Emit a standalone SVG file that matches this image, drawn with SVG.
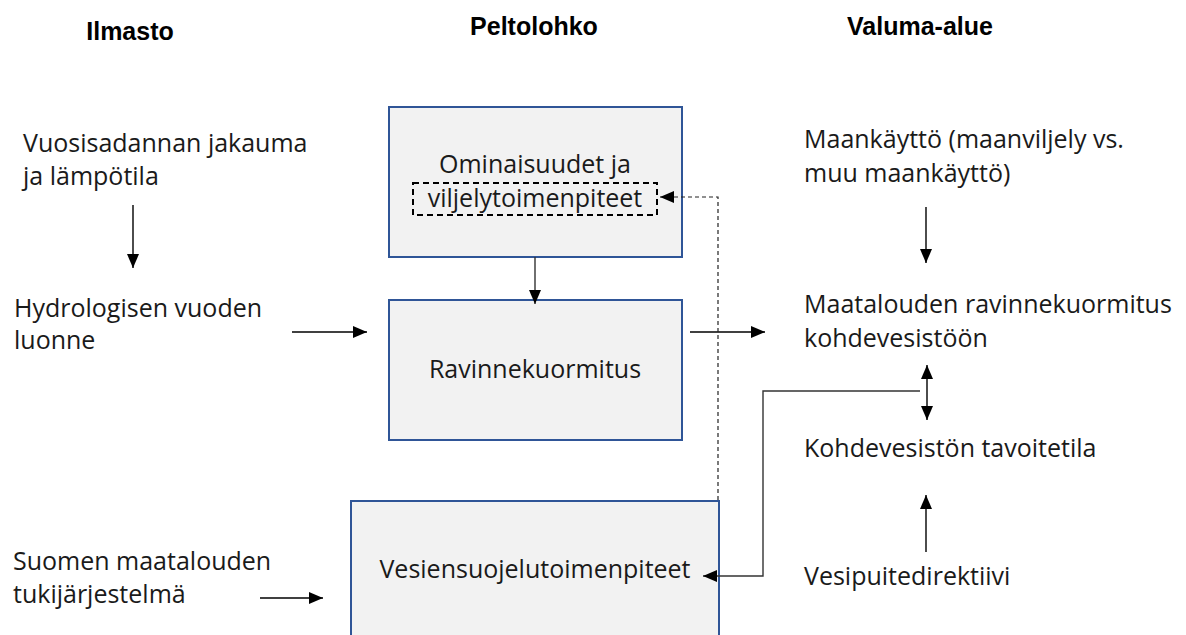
<svg xmlns="http://www.w3.org/2000/svg" width="1186" height="635" viewBox="0 0 1186 635">
<defs>
<style>
.hdr{font-family:"Liberation Sans",Arial,sans-serif;font-weight:bold;font-size:25px;fill:#000;}
.t{font-family:"Open Sans","Noto Sans",sans-serif;font-size:25px;fill:#1a1a1a;}
.box{fill:#f2f2f2;stroke:#2f5597;stroke-width:2;}
.ln{stroke:#000;stroke-width:1.4;fill:none;}
.gl{stroke:#333;stroke-width:1.4;fill:none;}
.dl{stroke:#222;stroke-width:1.2;fill:none;stroke-dasharray:4 3;}
</style>
<marker id="ah" viewBox="0 0 14 12" refX="14" refY="6" markerWidth="14" markerHeight="12" markerUnits="userSpaceOnUse" orient="auto-start-reverse">
<path d="M0,0 L14,6 L0,12 Z" fill="#000"/>
</marker>
</defs>
<rect width="1186" height="635" fill="#fff"/>
<g id="headers">
<text class="hdr" x="130" y="40" text-anchor="middle">Ilmasto</text>
<text class="hdr" x="534" y="35" text-anchor="middle">Peltolohko</text>
<text class="hdr" x="920" y="35" text-anchor="middle">Valuma-alue</text>
</g>
<g id="box-ominaisuudet">
<rect class="box" x="389" y="107" width="293" height="150"/>
<text class="t" x="535" y="173" text-anchor="middle">Ominaisuudet ja</text>
<rect x="413" y="183" width="244" height="32" fill="none" stroke="#000" stroke-width="2" stroke-dasharray="6 4"/>
<text class="t" x="535" y="207" text-anchor="middle">viljelytoimenpiteet</text>
</g>
<g id="box-ravinnekuormitus">
<rect class="box" x="389" y="300" width="293" height="140"/>
<text class="t" x="535" y="378" text-anchor="middle">Ravinnekuormitus</text>
</g>
<g id="box-vesiensuojelu">
<rect class="box" x="351" y="501" width="368" height="150"/>
<text class="t" x="535" y="578" text-anchor="middle">Vesiensuojelutoimenpiteet</text>
</g>
<g id="n-vuosisadanta">
<text class="t" x="23" y="152">Vuosisadannan jakauma</text>
<text class="t" x="23" y="185">ja lämpötila</text>
</g>
<g id="n-hydrologinen">
<text class="t" x="14" y="317">Hydrologisen vuoden</text>
<text class="t" x="14" y="349">luonne</text>
</g>
<g id="n-tukijarjestelma">
<text class="t" x="13" y="570">Suomen maatalouden</text>
<text class="t" x="13" y="603">tukijärjestelmä</text>
</g>
<g id="n-maankaytto">
<text class="t" x="804" y="148">Maankäyttö (maanviljely vs.</text>
<text class="t" x="804" y="182">muu maankäyttö)</text>
</g>
<g id="n-maatalouden">
<text class="t" x="804" y="313">Maatalouden ravinnekuormitus</text>
<text class="t" x="804" y="347">kohdevesistöön</text>
</g>
<g id="n-tavoitetila">
<text class="t" x="804" y="457">Kohdevesistön tavoitetila</text>
</g>
<g id="n-vesipuite">
<text class="t" x="804" y="585">Vesipuitedirektiivi</text>
</g>
<g id="connectors">
<line class="ln" x1="133" y1="205" x2="133" y2="268" marker-end="url(#ah)"/>
<line class="ln" x1="292" y1="332" x2="367" y2="332" marker-end="url(#ah)"/>
<line class="ln" x1="260" y1="598" x2="323" y2="598" marker-end="url(#ah)"/>
<line class="gl" x1="535" y1="257" x2="535" y2="304" marker-end="url(#ah)"/>
<line class="ln" x1="690" y1="332" x2="765" y2="332" marker-end="url(#ah)"/>
<line class="ln" x1="926" y1="207" x2="926" y2="263" marker-end="url(#ah)"/>
<line class="ln" x1="927" y1="365" x2="927" y2="420" marker-start="url(#ah)" marker-end="url(#ah)"/>
<line class="ln" x1="926" y1="552" x2="926" y2="495" marker-end="url(#ah)"/>
<polyline class="gl" points="920,391 763,391 763,576 703,576" marker-end="url(#ah)"/>
<polyline class="dl" points="718,500 718,197 660,197" marker-end="url(#ah)"/>
</g>
</svg>
